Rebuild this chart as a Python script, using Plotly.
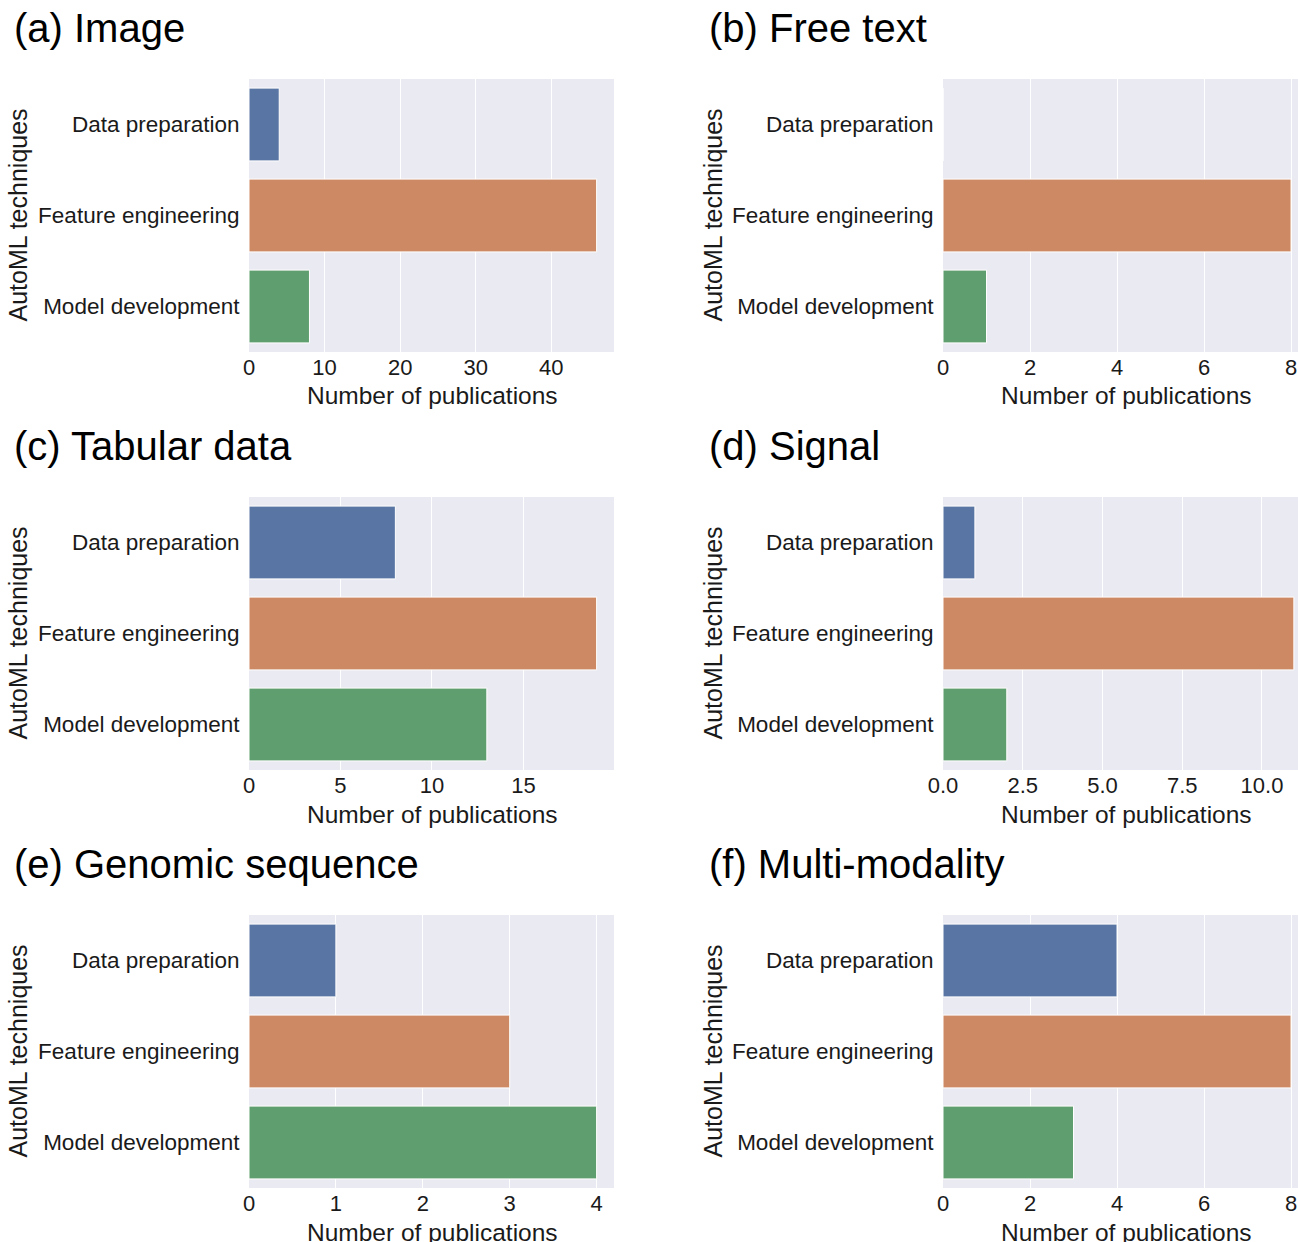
import plotly.graph_objects as go

W, H = 1298, 1242

categories = ["Data preparation", "Feature engineering", "Model development"]
colors = ["#5975a4", "#cc8963", "#5f9e6e"]

panel_titles = ["(a) Image", "(b) Free text", "(c) Tabular data", "(d) Signal",
                "(e) Genomic sequence", "(f) Multi-modality"]
vals_image = [4, 46, 8]
vals_free_text = [0, 8, 1]
vals_tabular = [8, 19, 13]
vals_signal = [1, 11, 2]
vals_genomic = [1, 3, 4]
vals_multimodal = [4, 8, 3]
all_vals = [vals_image, vals_free_text, vals_tabular, vals_signal, vals_genomic, vals_multimodal]

x_ticks = [[0, 10, 20, 30, 40], [0, 2, 4, 6, 8], [0, 5, 10, 15],
           [0, 2.5, 5, 7.5, 10], [0, 1, 2, 3, 4], [0, 2, 4, 6, 8]]
x_tickfmt = ["d", "d", "d", ".1f", "d", "d"]
x_ranges = [[0, 48.3], [0, 8.16], [0, 19.95], [0, 11.13], [0, 4.2], [0, 8.16]]

x_title = "Number of publications"
y_title = "AutoML techniques"

FONT = "Liberation Sans, Arial, sans-serif"

# pixel layout
col_x = [(249, 614), (943, 1298)]
row_y = [(79, 352), (497, 770), (915, 1188)]
title_x = [12, 707]
title_y = [28, 446, 864]
ytitle_x = [17, 712]
xtitle_cx = [432, 1126]

def px_x(p):
    return p / W

def px_y(p):
    return 1 - p / H

fig = go.Figure()
annotations = []

for i in range(6):
    r, c = divmod(i, 2)
    xa = "x" if i == 0 else f"x{i+1}"
    ya = "y" if i == 0 else f"y{i+1}"
    fig.add_trace(go.Bar(
        x=all_vals[i], y=categories, orientation="h",
        marker=dict(color=colors, line=dict(color="white", width=1)),
        width=0.8, xaxis=xa, yaxis=ya, showlegend=False,
    ))
    x0, x1 = col_x[c]
    y0, y1 = row_y[r]
    xkey = "xaxis" if i == 0 else f"xaxis{i+1}"
    ykey = "yaxis" if i == 0 else f"yaxis{i+1}"
    fig.update_layout(**{
        xkey: dict(
            domain=[px_x(x0), min(1.0, px_x(x1))], anchor=ya, automargin=False,
            range=x_ranges[i], tickvals=x_ticks[i], tickformat=x_tickfmt[i],
            showgrid=True, gridcolor="white", gridwidth=1, zeroline=False,
            showline=False, ticks="",
            tickfont=dict(size=22, color="#1a1a1a", family=FONT),
        ),
        ykey: dict(
            domain=[px_y(y1), px_y(y0)], anchor=xa, automargin=False,
            categoryorder="array", categoryarray=categories,
            autorange="reversed", showgrid=False, zeroline=False, showline=False,
            ticks="outside", ticklen=4, tickcolor="rgba(0,0,0,0)",
            tickfont=dict(size=22.5, color="#1a1a1a", family=FONT),
        ),
    })
    annotations.append(dict(
        text=panel_titles[i], x=px_x(title_x[c]), y=px_y(title_y[r]),
        xref="paper", yref="paper", xanchor="left", yanchor="middle",
        showarrow=False, font=dict(size=40, color="black", family=FONT),
    ))
    annotations.append(dict(
        text=y_title, x=px_x(ytitle_x[c]), y=px_y((y0 + y1) / 2),
        xref="paper", yref="paper", xanchor="center", yanchor="middle",
        textangle=-90, showarrow=False,
        font=dict(size=25, color="#1a1a1a", family=FONT),
    ))
    annotations.append(dict(
        text=x_title, x=px_x(xtitle_cx[c]), y=px_y(y1 + 44),
        xref="paper", yref="paper", xanchor="center", yanchor="middle",
        showarrow=False, font=dict(size=24.5, color="#1a1a1a", family=FONT),
    ))

fig.update_layout(
    width=W, height=H,
    margin=dict(l=0, r=0, t=0, b=0, autoexpand=False),
    paper_bgcolor="white", plot_bgcolor="#eaeaf2",
    bargap=0.2,
    annotations=annotations,
    font=dict(family=FONT),
)

fig.write_html(
    "out.html",
    config={"displayModeBar": False},
    post_script="document.body.style.margin='0';document.body.style.overflow='hidden';",
)
